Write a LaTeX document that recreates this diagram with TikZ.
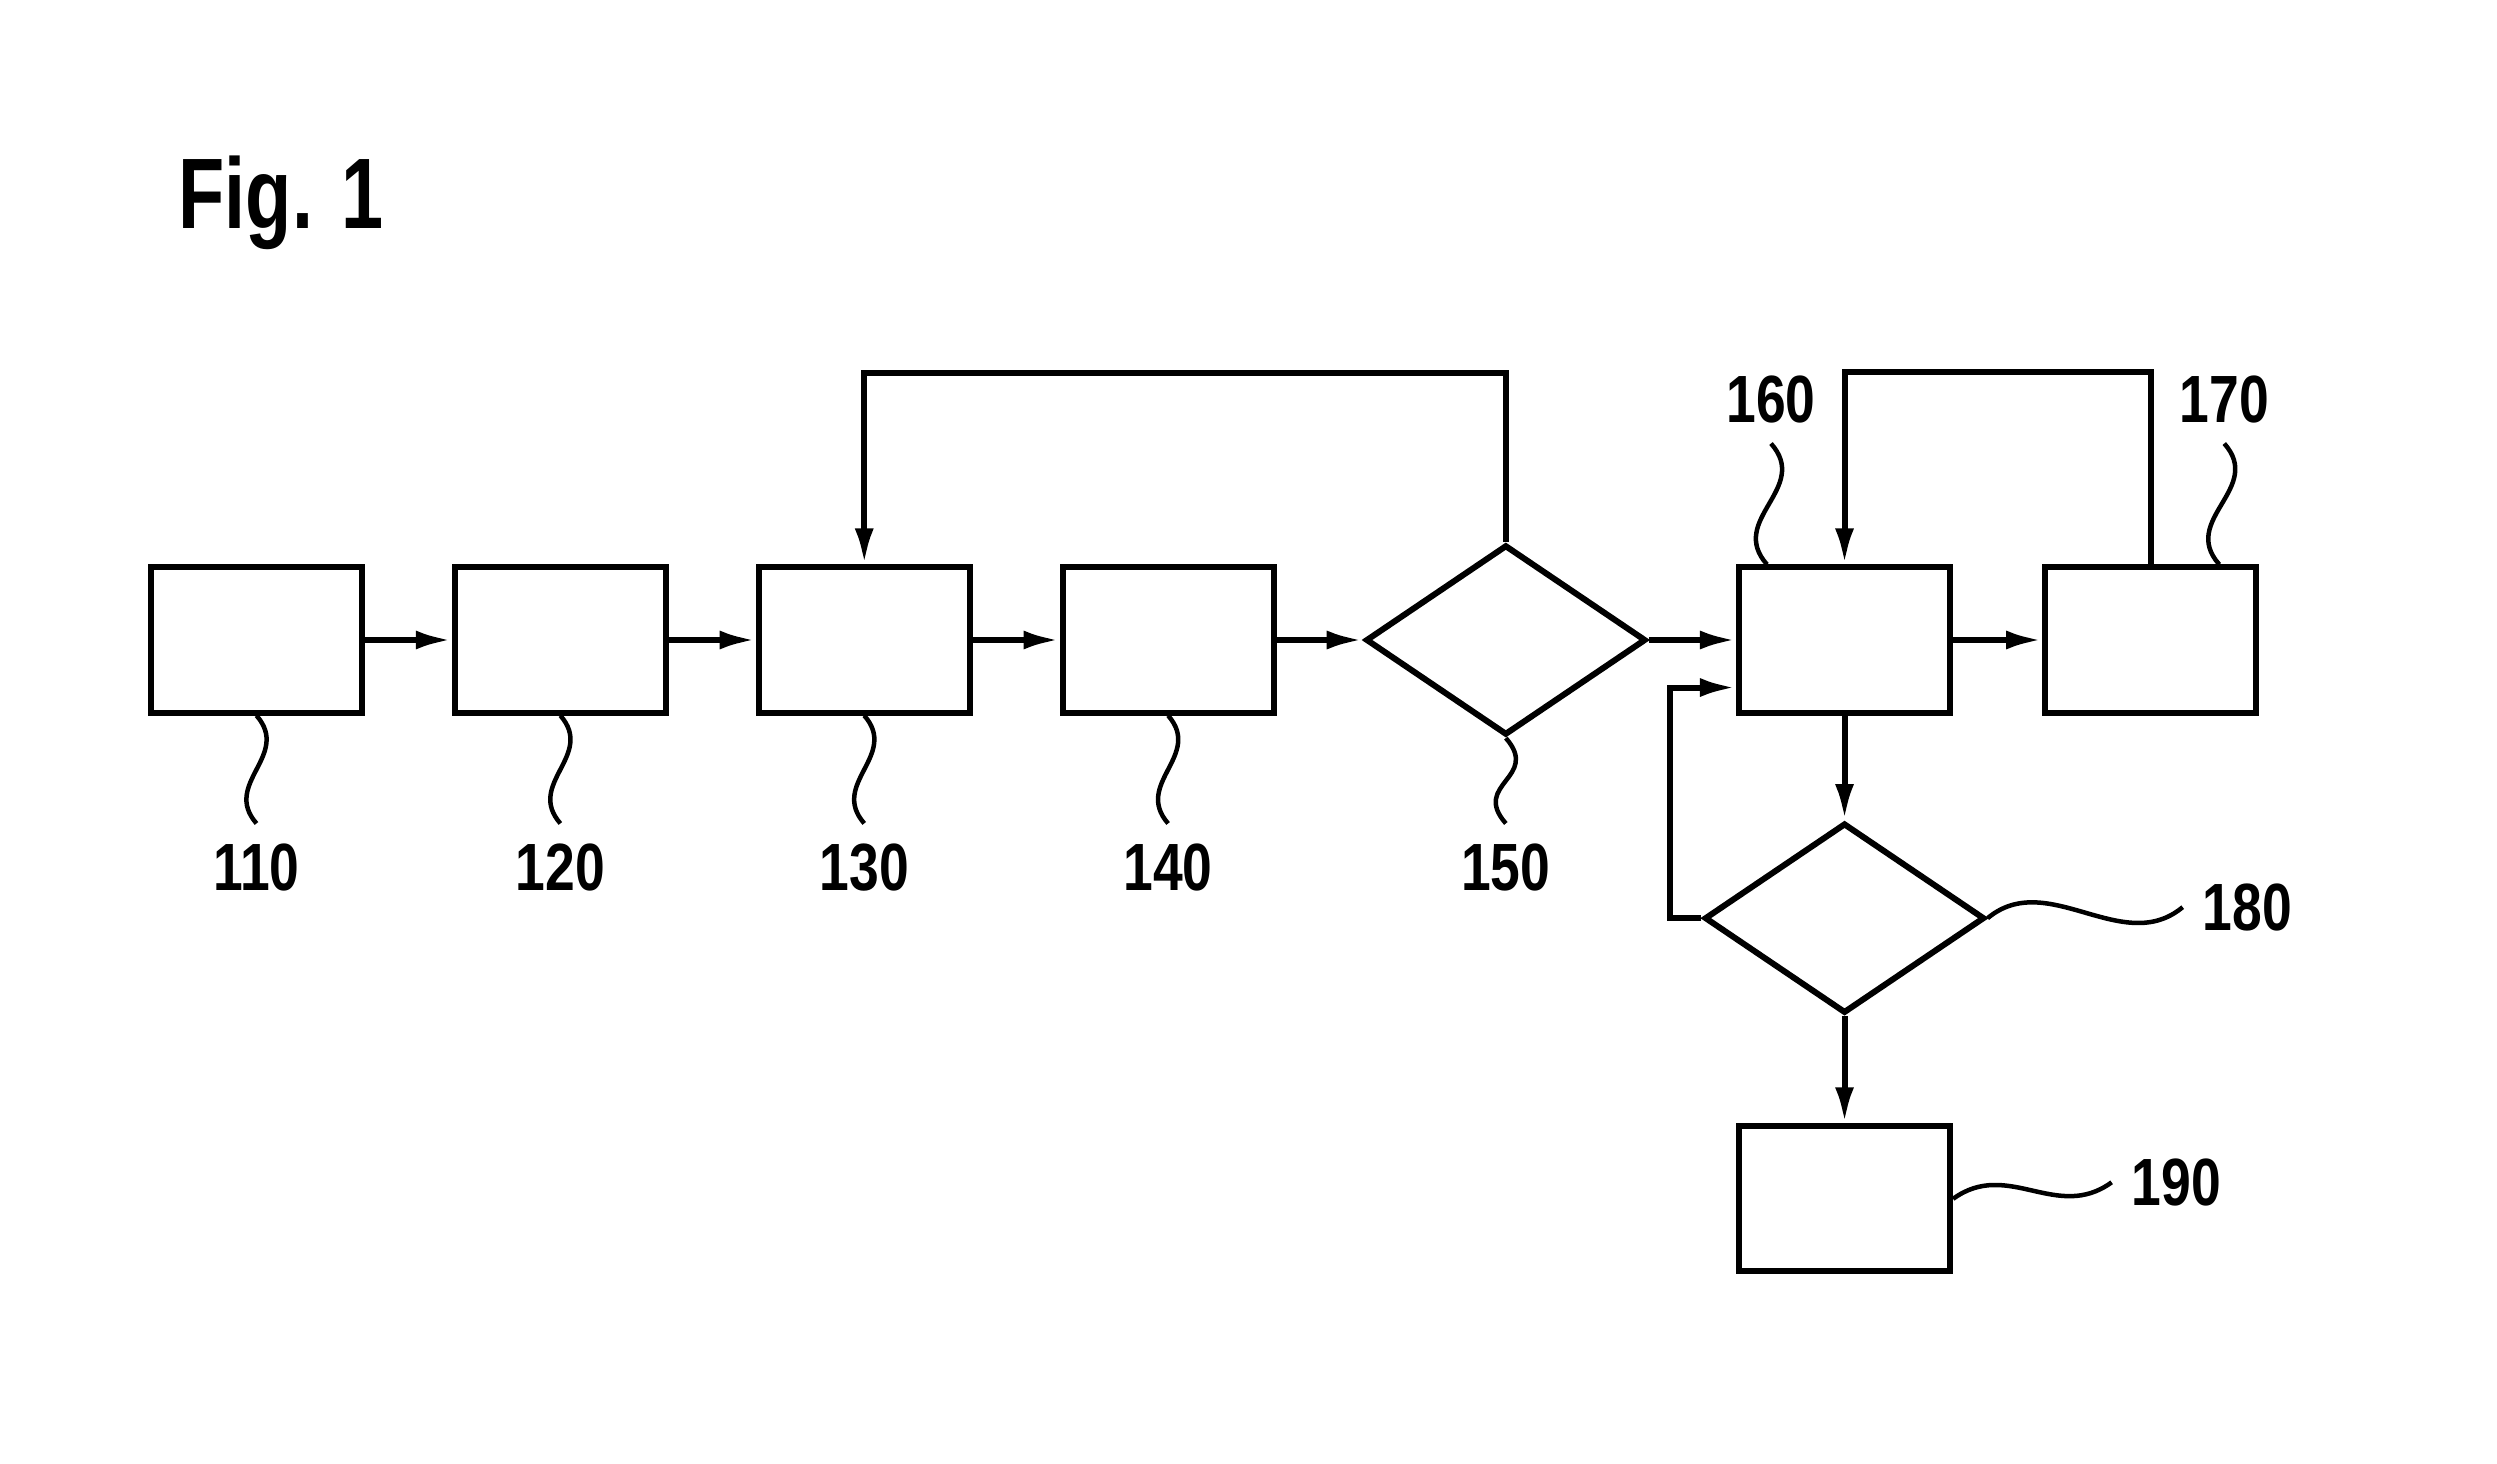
\documentclass[tikz,border=0pt]{standalone}
\usepackage{fontspec}
\newfontfamily\labelfont{Liberation Sans}[FakeStretch=0.8]
\newfontfamily\figfont{Liberation Sans}[FakeStretch=0.755]
\usetikzlibrary{shapes.geometric}
\usetikzlibrary {positioning}
\usetikzlibrary{arrows.meta}

\begin{document}
\begin{tikzpicture}[x=0.01cm ,y=-0.01cm ,-{Latex[length=0.36cm,width=0.19cm]} ,node distance =3.037cm ,on grid ,
    line width=0.06cm ,
    state/.style ={ rectangle ,draw ,minimum width =2.11 cm ,minimum height = 1.45 cm ,inner sep=0pt},
    test/.style ={ diamond ,draw ,aspect=1.47 ,minimum width =2.8 cm ,minimum height = 1.9 cm ,inner sep=0pt},
    num/.style ={ inner sep=0.17cm ,font=\labelfont\bfseries\fontsize{19}{19}\selectfont},
    lead/.style ={ -, line width=0.045cm}]
    \useasboundingbox (0,0) rectangle (2497,1464);
    \node[font=\figfont\bfseries\fontsize{28.5}{28.5}\selectfont] (fig) at (281,203) {Fig. 1};
    \node[state] (A) at (256.5,640) {};
    \node[state] (B) [right =of A] {};
    \node[state] (C) [right =of B] {};
    \node[state] (D) [right =of C] {};
    \node[test] (E) [right =3.375cm of D] {};
    \node[state] (F) [right =3.385cm of E] {};
    \node[state] (G) [right =3.06cm of F] {};
    \node[test] (H) [below =2.78cm of F] {};
    \node[state] (I) [below =2.805cm of H] {};
    % reference numbers
    \node[num] (n110) [below =2.27cm of A] {110};
    \node[num] (n120) [below =2.27cm of B] {120};
    \node[num] (n130) [below =2.27cm of C] {130};
    \node[num] (n140) [below =2.27cm of D] {140};
    \node[num] (n150) [below =2.27cm of E] {150};
    \node[num] (n160) [above left =2.4cm and 0.735cm of F] {160};
    \node[num] (n170) [above right =2.4cm and 0.735cm of G] {170};
    \node[num] (n180) [right =4.025cm of H, yshift=0.11cm] {180};
    \node[num] (n190) [right =3.315cm of I, yshift=0.165cm] {190};
    % flow
    \path (A) edge (B) (B) edge (C) (C) edge (D) (D) edge (E.west)
          (E.east) edge (F) (F) edge (G) (F) edge (H.north) (H.south) edge (I);
    \draw (E.north) -- ++(0,-169) -| (C.north);
    \draw (G.north) -- ++(0,-192) -| (F.north);
    \draw (H.west) -- ++(-31,0) |- ([yshift=0.28cm]F.south west);
    % leaders
    \foreach \a/\b in {A/n110,B/n120,C/n130,D/n140,E/n150}
      \draw[lead] (\a.south) .. controls +(35,40) and +(-35,-40) .. (\b.north);
    \draw[lead] ([xshift=0.31cm]F.north west) .. controls +(-40,-45) and +(40,45) .. (n160.south);
    \draw[lead] ([xshift=-0.4cm]G.north east) .. controls +(-40,-45) and +(40,45) .. (n170.south);
    \draw[lead] (H.east) .. controls +(60,-50) and +(-60,50) .. (n180.west);
    \draw[lead] (I.east) .. controls +(55,-40) and +(-55,40) .. (n190.west);
\end{tikzpicture}
\end{document}
